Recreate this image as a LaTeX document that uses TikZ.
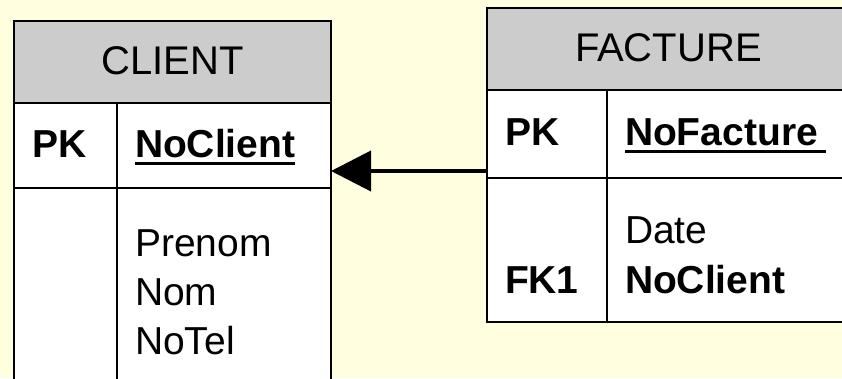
\documentclass[tikz,border=0pt]{standalone}
\usepackage{fontspec}
\setmainfont{Liberation Sans}
\usetikzlibrary{arrows.meta}
\definecolor{bg}{RGB}{255,255,224}
\definecolor{hdr}{RGB}{204,204,204}
\begin{document}
\begin{tikzpicture}[x=1pt,y=-1pt,
  rowbox/.style={draw=black, fill=white, line width=2.6pt, anchor=north west, inner sep=0pt, outer sep=0pt},
  hdrbox/.style={rowbox, fill=hdr},
  sep/.style={draw=black, line width=2.6pt},
  txt/.style={inner sep=0pt, outer sep=0pt, font=\fontsize{39}{47}\selectfont},
  ttl/.style={inner sep=0pt, outer sep=0pt, font=\fontsize{40}{48}\selectfont},
  bld/.style={txt, font=\fontsize{39}{47}\selectfont\bfseries},
  ulin/.style={draw=black, line width=3pt},
  fkarrow/.style={draw=black, line width=4pt, -{Triangle[length=40pt,width=40pt]}}]
\useasboundingbox (0,0) rectangle (842,378);
\fill[bg] (0,0) rectangle (842,378);
\begin{scope}
\clip (0,0) rectangle (842,378);
% CLIENT table
\node[hdrbox, minimum width=317pt, minimum height=82pt] (chead) at (14,21) {};
\node[rowbox, minimum width=317pt, minimum height=85pt] (cpk) at (14,103) {};
\node[rowbox, minimum width=317pt, minimum height=240pt] (cbody) at (14,188) {};
\draw[sep] (cpk.north west -| 117,0) -- (117,400);
% FACTURE table
\node[hdrbox, minimum width=400pt, minimum height=82pt] (fhead) at (487,8) {};
\node[rowbox, minimum width=400pt, minimum height=88pt] (fpk) at (487,90) {};
\node[rowbox, minimum width=400pt, minimum height=144pt] (fbody) at (487,178) {};
\draw[sep] (fpk.north west -| 607,0) -- (fbody.south west -| 607,0);
\end{scope}
% texts CLIENT
\node[ttl, anchor=base] (ctitle) at (172.5,74) {CLIENT};
\node[bld, anchor=base west] (cpklbl) at (32,157) {PK};
\node[bld, anchor=base west] (cnocl) at (135,157) {NoClient};
\draw[ulin] ([yshift=-6pt]cnocl.base west) -- ([yshift=-6pt]cnocl.base east);
\node[txt, anchor=base west] (cpren) at (135,256) {Prenom};
\node[txt, anchor=base west] (cnom) at (135,305) {Nom};
\node[txt, anchor=base west] (ctel) at (135,354) {NoTel};
% texts FACTURE
\node[ttl, anchor=base west] (ftitle) at (575,61) {FACTURE};
\node[bld, anchor=base west] (fpklbl) at (505,145) {PK};
\node[bld, anchor=base west] (fnof) at (625,145) {NoFacture};
\draw[ulin] ([yshift=-6pt]fnof.base west) -- ([yshift=-6pt,xshift=8pt]fnof.base east);
\node[txt, anchor=base west] (fdate) at (625,243) {Date};
\node[bld, anchor=base west] (ffk) at (505,293) {FK1};
\node[bld, anchor=base west] (fnocl) at (625,293) {NoClient};
% connector
\draw[fkarrow] (fpk.west |- 0,171) -- (cpk.east |- 0,171);
\end{tikzpicture}
\end{document}
